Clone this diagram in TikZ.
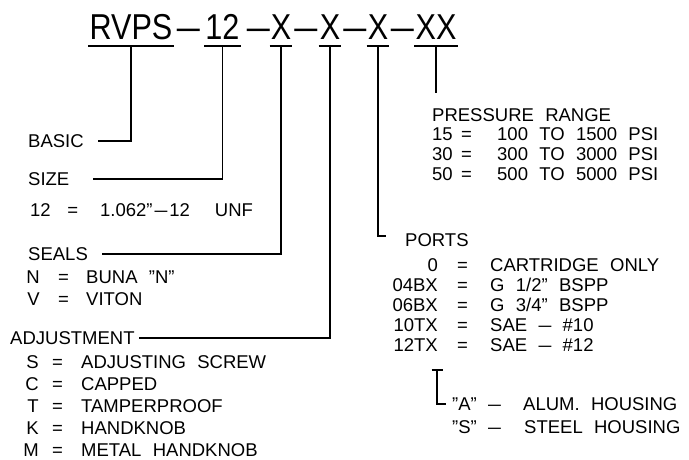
\documentclass[tikz,border=0pt]{standalone}
\usepackage{fontspec}
\setmainfont{Liberation Sans}[WordSpace=2.2]
\newfontfamily\titlefont{Liberation Sans}[FakeStretch=0.85]
\newfontfamily\dashfont{Liberation Sans}[FakeStretch=1.15]
\newcommand{\wdash}{{\dashfont\addfontfeature{FakeStretch=1.25}–}}

\tikzset{
  txt/.style={font=\fontsize{18.5}{22}\selectfont, inner sep=0pt, anchor=west,
    text height=13pt, text depth=0pt},
  code/.style={font=\titlefont\fontsize{36}{36}\selectfont, inner xsep=1pt,
    inner ysep=0pt, anchor=base},
  hyph/.style={font=\dashfont\fontsize{36}{36}\selectfont, inner sep=0pt, anchor=base},
  lead/.style={line width=1.1pt},
  bar/.style={line width=1.3pt},
}

\begin{document}
\begin{tikzpicture}[x=1pt, y=-1pt]
    \useasboundingbox (0,0) rectangle (689,460);

    % 1. Model code RVPS-12-X-X-X-XX
    \node[code] (rvps) at (131,40) {RVPS};
    \node[hyph] (d1) at (188.5,40) {–};
    \node[code] (n12) at (222.5,40) {12};
    \node[hyph] (d2) at (258.5,40) {–};
    \node[code] (xs) at (281,40) {X};
    \node[hyph] (d3) at (306,40) {–};
    \node[code] (xa) at (330,40) {X};
    \node[hyph] (d4) at (355,40) {–};
    \node[code] (xp) at (378,40) {X};
    \node[hyph] (d5) at (402.5,40) {–};
    \node[code] (xx) at (436,40) {XX};

    % underlines below each field
    \foreach \n in {rvps, n12, xs, xa, xp, xx}
        \draw[bar] ([yshift=-6pt]\n.base west) -- ([yshift=-6pt]\n.base east);

    % 2. Basic and size
    \node[txt] (basic) at (28,141) {BASIC};
    \node[txt] (size) at (28,179) {SIZE};
    \node[txt] (size1) at (30,210)
        {12\hspace{16.5pt}=\hspace{22pt}1.062”\hspace{2pt}\wdash\hspace{2pt}12\hspace{25pt}UNF};

    % 3. Seals
    \node[txt] (seals) at (28,254) {SEALS};
    \foreach \c/\d [count=\i] in {N/BUNA ”N”, V/VITON} {
        \node[txt, anchor=east] (sealc\i) at (40,255+22*\i) {\c};
        \node[txt] (seale\i) at (58,255+22*\i) {=};
        \node[txt] (seald\i) at (86,255+22*\i) {\d};
    }

    % 4. Adjustment
    \node[txt] (adj) at (10,338) {ADJUSTMENT};
    \foreach \c/\d [count=\i] in {S/ADJUSTING SCREW, C/CAPPED, T/TAMPERPROOF,
                                  K/HANDKNOB, M/METAL HANDKNOB} {
        \node[txt, anchor=east] (adjc\i) at (39,340+22*\i) {\c};
        \node[txt] (adje\i) at (52,340+22*\i) {=};
        \node[txt] (adjd\i) at (81,340+22*\i) {\d};
    }

    % 5. Pressure range
    \node[txt] (range) at (432,115) {PRESSURE RANGE};
    \foreach \c/\d [count=\i] in {15/100 TO 1500 PSI, 30/300 TO 3000 PSI,
                                  50/500 TO 5000 PSI} {
        \node[txt] (rngc\i) at (432,115+19.5*\i) {\c};
        \node[txt] (rnge\i) at (461,115+19.5*\i) {=};
        \node[txt] (rngd\i) at (497,115+19.5*\i) {\d};
    }

    % 6. Ports
    \node[txt] (ports) at (405,240) {PORTS};
    \foreach \c/\d [count=\i] in {0/CARTRIDGE ONLY, 04BX/{G 1/2” BSPP},
                                  06BX/{G 3/4” BSPP}, 10TX/SAE \wdash{} \#10,
                                  12TX/SAE \wdash{} \#12} {
        \node[txt, anchor=east] (portc\i) at (438,245+20*\i) {\c};
        \node[txt] (porte\i) at (457,245+20*\i) {=};
        \node[txt] (portd\i) at (490,245+20*\i) {\d};
    }

    % housing option below the port codes
    \coordinate (hstop) at (437,370);
    \node[txt, anchor=east] (hsa) at (477,404) {”A”};
    \node[txt] (hsad) at (488,404) {\wdash};
    \node[txt] (hsat) at (523,404) {ALUM. HOUSING};
    \node[txt, anchor=east] (hss) at (477,427) {”S”};
    \node[txt] (hssd) at (488,427) {\wdash};
    \node[txt] (hsst) at (524,427) {STEEL HOUSING};

    % 7. Leader lines
    \draw[lead] ([yshift=-6pt]rvps.base) |- ([xshift=14pt]basic.east);
    \draw[lead] ([yshift=-6pt]n12.base) |- ([xshift=23pt]size.east);
    \draw[lead] ([yshift=-6pt]xs.base) |- ([xshift=14pt]seals.east);
    \draw[lead] ([yshift=-6pt]xa.base) |- ([xshift=4pt]adj.east);
    \draw[lead] ([yshift=-6pt]xp.base) |- ([xshift=-19pt,yshift=4pt]ports.west);
    \draw[lead] ([yshift=-6pt]xx.base) -- ([yshift=15pt]xx.base |- range.north);
    \draw[lead] ([xshift=-5.5pt]hstop) -- ([xshift=5.5pt]hstop);
    \draw[lead] (hstop) |- ([xshift=-6pt]hsa.west);

\end{tikzpicture}
\end{document}
